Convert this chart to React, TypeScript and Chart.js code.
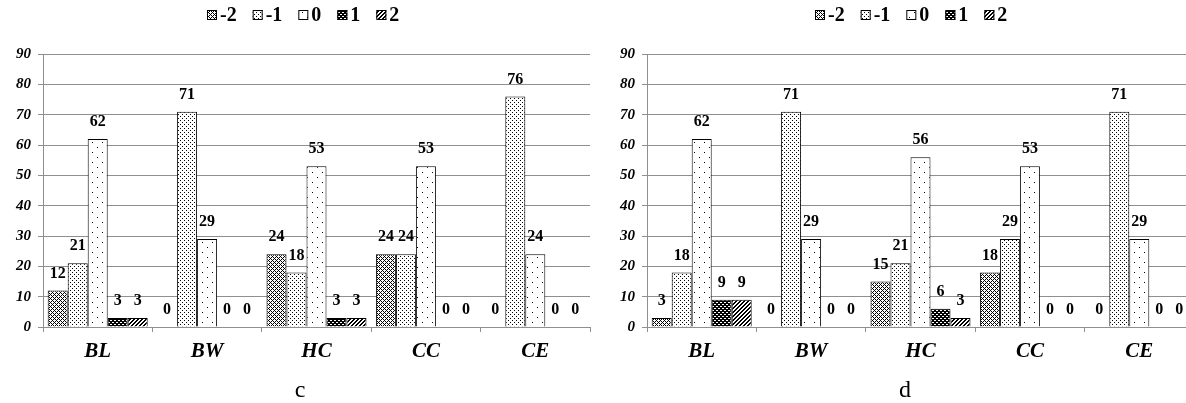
import React, { useEffect, useRef } from 'react';
import { Chart, registerables } from 'chart.js';

Chart.register(...registerables);

// ---------- data ----------
const categories = ['BL', 'BW', 'HC', 'CC', 'CE'];
const seriesLabels = ['-2', '-1', '0', '1', '2'];
const yTickValues = [0, 10, 20, 30, 40, 50, 60, 70, 80, 90];

const cMinus2 = [12, 0, 24, 24, 0];
const cMinus1 = [21, 71, 18, 24, 76];
const cZero = [62, 29, 53, 53, 24];
const cPlus1 = [3, 0, 3, 0, 0];
const cPlus2 = [3, 0, 3, 0, 0];

const dMinus2 = [3, 0, 15, 18, 0];
const dMinus1 = [18, 71, 21, 29, 71];
const dZero = [62, 29, 56, 53, 29];
const dPlus1 = [9, 0, 6, 0, 0];
const dPlus2 = [9, 0, 3, 0, 0];

const captions = ['c', 'd'];

const FONT = '"Liberation Serif", "Times New Roman", serif';

// ---------- patterns ----------
function makePattern(size: number, fn: (x: number, y: number) => boolean): CanvasPattern | string {
  const c = document.createElement('canvas');
  c.width = size;
  c.height = size;
  const g = c.getContext('2d');
  if (!g) return '#888';
  g.fillStyle = '#ffffff';
  g.fillRect(0, 0, size, size);
  g.fillStyle = '#000000';
  for (let y = 0; y < size; y++) {
    for (let x = 0; x < size; x++) {
      if (fn(x, y)) g.fillRect(x, y, 1, 1);
    }
  }
  const p = g.createPattern(c, 'repeat');
  return p || '#888';
}

function buildPatterns() {
  const crossHatch = makePattern(4, (x, y) => (x + y) % 4 === 0 || (x - y + 8) % 4 === 0);
  const fineDots = makePattern(4, (x, y) => (x === 0 && y === 0) || (x === 2 && y === 2));
  const sparseDots = makePattern(10, (x, y) => (x === 2 && y === 2) || (x === 7 && y === 7));
  const darkHatch = makePattern(4, (x, y) => {
    const s = (x + y) % 4;
    const d = (x - y + 8) % 4;
    return s < 2 || d < 2;
  });
  const stripes = makePattern(4, (x, y) => (x + y) % 4 < 2);
  return [crossHatch, fineDots, sparseDots, darkHatch, stripes];
}

// ---------- plugins ----------
const legendPlugin = {
  id: 'customLegend',
  afterDraw(chart: any) {
    const ctx = chart.ctx as CanvasRenderingContext2D;
    ctx.save();
    ctx.font = `bold 20px ${FONT}`;
    const box = 10;
    const gapBT = 3;
    const gapItem = 16;
    const items = chart.data.datasets.map((ds: any) => ({
      label: ds.label as string,
      fill: ds.backgroundColor,
      w: box + gapBT + ctx.measureText(ds.label).width,
    }));
    const total = items.reduce((s: number, i: any) => s + i.w, 0) + gapItem * (items.length - 1);
    let x = Math.round(chart.width / 2 - total / 2);
    const cy = 15;
    items.forEach((it: any) => {
      ctx.fillStyle = it.fill;
      ctx.fillRect(x, cy - box / 2, box, box);
      ctx.strokeStyle = '#000';
      ctx.lineWidth = 1;
      ctx.strokeRect(x + 0.5, Math.round(cy - box / 2) + 0.5, box - 1, box - 1);
      ctx.fillStyle = '#000';
      ctx.textBaseline = 'middle';
      ctx.textAlign = 'left';
      ctx.fillText(it.label, x + box + gapBT, cy + 1);
      x += it.w + gapItem;
    });
    ctx.restore();
  },
};

const valueLabelPlugin = {
  id: 'valueLabels',
  afterDatasetsDraw(chart: any) {
    const ctx = chart.ctx as CanvasRenderingContext2D;
    ctx.save();
    ctx.font = `bold 16px ${FONT}`;
    ctx.fillStyle = '#000';
    ctx.textAlign = 'center';
    ctx.textBaseline = 'middle';
    chart.data.datasets.forEach((ds: any, i: number) => {
      const meta = chart.getDatasetMeta(i);
      meta.data.forEach((bar: any, j: number) => {
        const v = ds.data[j];
        ctx.fillText(String(v), bar.x, bar.y - 17);
      });
    });
    ctx.restore();
  },
};

// ---------- chart component ----------
type PanelProps = {
  series: number[][];
  width: number;
  height: number;
  yAxisWidth: number;
  left: number;
};

function Panel({ series, width, height, yAxisWidth, left }: PanelProps) {
  const ref = useRef<HTMLCanvasElement | null>(null);
  useEffect(() => {
    if (!ref.current) return;
    const patterns = buildPatterns();
    const chart = new Chart(ref.current, {
      type: 'bar',
      data: {
        labels: categories,
        datasets: series.map((d, i) => ({
          label: seriesLabels[i],
          data: d,
          backgroundColor: patterns[i] as any,
          borderColor: '#000',
          borderWidth: 1,
          categoryPercentage: 0.914,
          barPercentage: 1.0,
        })),
      },
      options: {
        responsive: false,
        animation: false,
        devicePixelRatio: 1,
        layout: { padding: { top: 54, right: 16, bottom: 0, left: 0 } },
        plugins: {
          legend: { display: false },
          tooltip: { enabled: false },
          title: { display: false },
        },
        scales: {
          x: {
            grid: {
              drawOnChartArea: false,
              drawTicks: true,
              tickLength: 5,
              color: '#8f8f8f',
              offset: true,
            },
            border: { color: '#8f8f8f' },
            ticks: {
              color: '#000',
              padding: 7,
              font: { family: FONT, size: 21, weight: 'bold', style: 'italic' },
            },
            afterFit: (scale: any) => {
              scale.height = height - 327;
            },
          },
          y: {
            min: 0,
            max: 90,
            afterBuildTicks: (scale: any) => {
              scale.ticks = yTickValues.map((v) => ({ value: v }));
            },
            grid: { color: '#8f8f8f', tickLength: 5, drawTicks: true },
            border: { color: '#8f8f8f' },
            ticks: {
              color: '#000',
              padding: 7,
              font: { family: FONT, size: 15, weight: 'bold', style: 'italic' },
            },
            afterFit: (scale: any) => {
              scale.width = yAxisWidth;
            },
          },
        },
      },
      plugins: [legendPlugin, valueLabelPlugin],
    });
    return () => chart.destroy();
  }, []);
  return (
    <canvas
      ref={ref}
      width={width}
      height={height}
      style={{ position: 'absolute', left, top: 0, width, height }}
    />
  );
}

export default function App() {
  const cSeries = [cMinus2, cMinus1, cZero, cPlus1, cPlus2];
  const dSeries = [dMinus2, dMinus1, dZero, dPlus1, dPlus2];
  const captionStyle = {
    position: 'absolute' as const,
    width: 40,
    top: 376,
    textAlign: 'center' as const,
    fontFamily: FONT,
    fontSize: 24,
    lineHeight: '26px',
    color: '#000',
  };
  return (
    <div
      style={{
        position: 'fixed',
        left: 0,
        top: 0,
        width: 1186,
        height: 403,
        overflow: 'hidden',
        background: '#fff',
      }}
    >
      <Panel series={cSeries} width={606} height={380} yAxisWidth={43} left={0} />
      <Panel series={dSeries} width={598} height={380} yAxisWidth={35} left={612} />
      <div style={{ ...captionStyle, left: 300 - 20 }}>{captions[0]}</div>
      <div style={{ ...captionStyle, left: 905 - 20 }}>{captions[1]}</div>
    </div>
  );
}
